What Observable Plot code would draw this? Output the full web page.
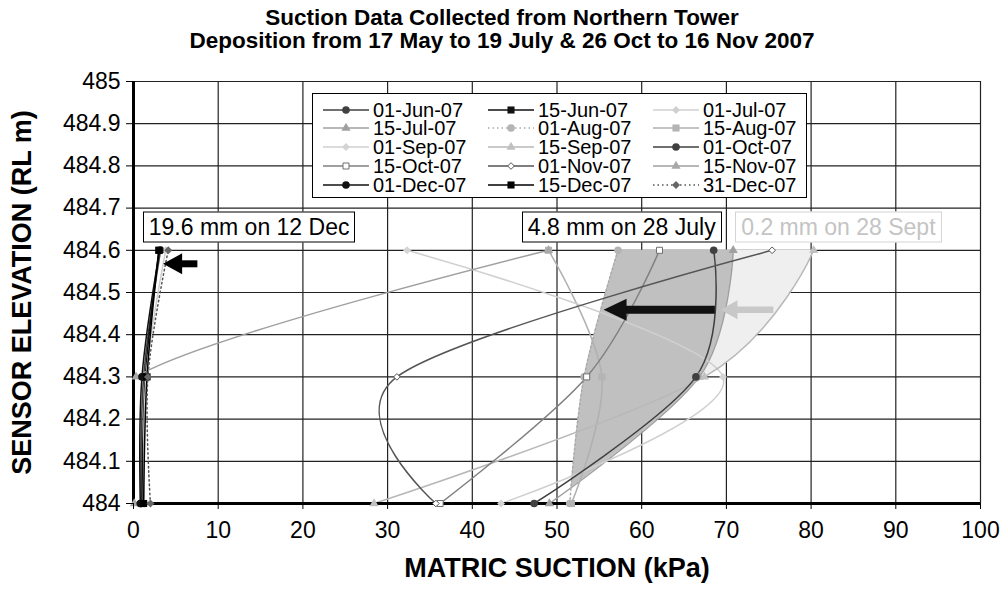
<!DOCTYPE html>
<html>
<head>
<meta charset="utf-8">
<script src="https://cdn.jsdelivr.net/npm/d3@7"></script>
<script src="https://cdn.jsdelivr.net/npm/@observablehq/plot@0.6"></script>
<style>
  body { margin: 0; background: #fff; font-family: "Liberation Sans", Arial, sans-serif; }
  #wrap { position: relative; width: 1004px; height: 600px; overflow: hidden; background: #fff; }
  #chart { position: absolute; left: 0; top: 0; }
  .title { position: absolute; left: 0; width: 1004px; text-align: center; font-weight: bold; font-size: 22.5px; line-height: 22px; height: 22px; color: #000; }
  #legend { position: absolute; left: 312px; top: 93px; width: 495px; height: 105px; background: #fff; border: 1px solid #000; box-sizing: border-box; }
  .item { position: absolute; display: flex; align-items: center; font-size: 20px; line-height: 18px; height: 18px; white-space: nowrap; color: #000; }
  .item svg { margin-right: 3px; display: block; }
  .item span { display: block; line-height: 18px; height: 18px; }
  .ann { position: absolute; background: #fff; border: 1px solid #000; font-size: 23px; line-height: 29px; padding: 0 5px; white-space: nowrap; transform: translateY(-50%); }
</style>
</head>
<body>
<div id="wrap">
  <div id="chart"></div>
  <div class="title" style="top:7px">Suction Data Collected from Northern Tower</div>
  <div class="title" style="top:30px">Deposition from 17 May to 19 July &amp; 26 Oct to 16 Nov 2007</div>
  <div id="legend"></div>
</div>
<script>
// ---------------- DATA ----------------
const elevations = [484.0, 484.3, 484.6];   // sensor elevations (RL m)
const dates = ["01-Jun-07","15-Jun-07","01-Jul-07","15-Jul-07","01-Aug-07","15-Aug-07",
               "01-Sep-07","15-Sep-07","01-Oct-07","15-Oct-07","01-Nov-07","15-Nov-07",
               "01-Dec-07","15-Dec-07","31-Dec-07"];
// matric suction (kPa) at 484.0, 484.3, 484.6
const jun01 = [0.9, 1.2, 3.2];
const jun15 = [1.0, 1.4, 3.0];
const jul01 = [1.3, 1.5, 3.8];
const jul15 = [49.1, 66.8, 70.8];
const aug01 = [51.5, 53.2, 57.2];
const aug15 = [51.7, 55.3, 49.0];
const sep01 = [43.4, 69.6, 32.3];
const sep15 = [28.4, 67.4, 80.3];
const oct01 = [47.3, 66.4, 68.5];
const oct15 = [36.2, 53.5, 62.1];
const nov01 = [35.7, 31.1, 75.4];
const nov15 = [0.1, 0.3, 49.0];
const dec01 = [0.8, 1.0, 3.1];
const dec15 = [1.2, 1.6, 3.0];
const dec31 = [2.0, 1.7, 4.1];
const seriesValues = [jun01, jun15, jul01, jul15, aug01, aug15, sep01, sep15, oct01, oct15, nov01, nov15, dec01, dec15, dec31];

const xTicks = [0, 10, 20, 30, 40, 50, 60, 70, 80, 90, 100];
const xTickLabels = ["0","10","20","30","40","50","60","70","80","90","100"];
const yTicks = [484.0, 484.1, 484.2, 484.3, 484.4, 484.5, 484.6, 484.7, 484.8, 484.9, 485.0];
const yTickLabels = ["484","484.1","484.2","484.3","484.4","484.5","484.6","484.7","484.8","484.9","485"];

// rainfall annotations
const annLabels = ["19.6 mm on 12 Dec", "4.8 mm on 28 July", "0.2 mm on 28 Sept"];
const annX = [1.15, 45.9, 71.1];
const annY = [484.653, 484.653, 484.653];
const arrowTail = [7.6, 68.7, 75.6];
const arrowTip = [3.5, 55.5, 69.3];
const arrowY = [484.568, 484.459, 484.459];
// shaded bands: [left series, right series]
const darkBand = ["01-Aug-07", "15-Jul-07"];
const lightBand = ["01-Oct-07", "15-Sep-07"];

// ---------------- STYLES ----------------
const styles = [
  {stroke:"#404040", symbol:"circle",   fill:"#404040", mstroke:"none",    r:3.8},
  {stroke:"#111111", symbol:"square",   fill:"#111111", mstroke:"none",    r:4},
  {stroke:"#d0d0d0", symbol:"diamond2", fill:"#d0d0d0", mstroke:"none",    r:3.6},
  {stroke:"#a0a0a0", symbol:"triangle", fill:"#a0a0a0", mstroke:"none",    r:3.4},
  {stroke:"#aaaaaa", symbol:"circle",   fill:"#b4b4b4", mstroke:"none",    r:3.8, dash:"1.5,3"},
  {stroke:"#b0b0b0", symbol:"square",   fill:"#b4b4b4", mstroke:"none",    r:4},
  {stroke:"#d0d0d0", symbol:"diamond2", fill:"#d4d4d4", mstroke:"none",    r:3.6},
  {stroke:"#b8b8b8", symbol:"triangle", fill:"#c0c0c0", mstroke:"none",    r:3.4},
  {stroke:"#404040", symbol:"circle",   fill:"#404040", mstroke:"none",    r:3.8},
  {stroke:"#808080", symbol:"square",   fill:"#ffffff", mstroke:"#707070", r:3.4},
  {stroke:"#555555", symbol:"diamond2", fill:"#ffffff", mstroke:"#555555", r:3.0},
  {stroke:"#a0a0a0", symbol:"triangle", fill:"#a8a8a8", mstroke:"none",    r:3.4},
  {stroke:"#111111", symbol:"circle",   fill:"#111111", mstroke:"none",    r:3.8},
  {stroke:"#000000", symbol:"square",   fill:"#000000", mstroke:"none",    r:4},
  {stroke:"#555555", symbol:"diamond2", fill:"#666666", mstroke:"none",    r:3.6, dash:"1.5,3"}
];
const arrowStyles = [
  {color:"#000000", shaft:7,   headLen:19, headW:21},
  {color:"#111111", shaft:8,   headLen:23, headW:22},
  {color:"#c8c8c8", shaft:6.5, headLen:17, headW:19}
];

// ---------------- TABLES ----------------
const rows = dates.flatMap((d, i) => elevations.map((e, j) => ({date: d, x: seriesValues[i][j], y: e})));

function bez(a, b, c, d, t) { const u = 1 - t; return u*u*u*a + 3*u*u*t*b + 3*u*t*t*c + t*t*t*d; }
// same construction as d3.curveCardinal (tension 0) for three points
function cardinalSamples(xs, ys, n) {
  const k = 1/6;
  const segs = [
    [[xs[0], ys[0]], [xs[0], ys[0]], [xs[1] + k*(xs[0]-xs[2]), ys[1] + k*(ys[0]-ys[2])], [xs[1], ys[1]]],
    [[xs[1], ys[1]], [xs[1] + k*(xs[2]-xs[0]), ys[1] + k*(ys[2]-ys[0])], [xs[2], ys[2]], [xs[2], ys[2]]]
  ];
  const out = [];
  segs.forEach((s, si) => {
    for (let i = si ? 1 : 0; i <= n; i++) {
      const t = i / n;
      out.push({x: bez(s[0][0], s[1][0], s[2][0], s[3][0], t), y: bez(s[0][1], s[1][1], s[2][1], s[3][1], t)});
    }
  });
  return out;
}
function bandRows(leftName, rightName) {
  const L = cardinalSamples(seriesValues[dates.indexOf(leftName)], elevations, 80);
  const R = cardinalSamples(seriesValues[dates.indexOf(rightName)], elevations, 80);
  const out = [];
  for (let i = L.length - 1; i >= 0; i--) {
    const d = R[i].x - L[i].x;
    if (d < 0) {
      const dp = R[i+1].x - L[i+1].x, f = dp / (dp - d);
      const x = L[i+1].x + f * (L[i].x - L[i+1].x);
      const y = L[i+1].y + f * (L[i].y - L[i+1].y);
      out.push({y, x1: x, x2: x});
      break;
    }
    out.push({y: L[i].y, x1: L[i].x, x2: R[i].x});
  }
  return out;
}
const darkRows = bandRows(darkBand[0], darkBand[1]);
const lightRows = bandRows(lightBand[0], lightBand[1]);
const arrows = arrowTip.map((t, i) => ({tip: t, tail: arrowTail[i], y: arrowY[i]}));

function headSymbol(L, W) {
  return {draw(ctx) { ctx.moveTo(0, 0); ctx.lineTo(L, -W/2); ctx.lineTo(L, W/2); ctx.closePath(); }};
}

// ---------------- MARKS ----------------
const lineMarks = dates.map((d, i) => Plot.line(rows.filter(r => r.date === d), {
  x: "x", y: "y", stroke: styles[i].stroke, strokeWidth: 1.5,
  strokeDasharray: styles[i].dash || null, curve: "cardinal", clip: true
}));
const dotMarks = dates.map((d, i) => Plot.dot(rows.filter(r => r.date === d), {
  x: "x", y: "y", symbol: styles[i].symbol, fill: styles[i].fill,
  stroke: styles[i].mstroke, strokeWidth: 1, r: styles[i].r
}));
const arrowMarks = arrows.flatMap((a, i) => [
  Plot.ruleY([a], {y: "y", x1: "tip", x2: "tail", stroke: arrowStyles[i].color,
    strokeWidth: arrowStyles[i].shaft, insetLeft: arrowStyles[i].headLen - 2}),
  Plot.dot([a], {x: "tip", y: "y", symbol: headSymbol(arrowStyles[i].headLen, arrowStyles[i].headW),
    fill: arrowStyles[i].color, stroke: "none", r: 5})
]);

const gridStyle = {stroke: "#222", strokeOpacity: 1, strokeWidth: 1.2};

const chart = Plot.plot({
  width: 1004, height: 600,
  marginLeft: 133, marginRight: 24, marginTop: 81, marginBottom: 97,
  style: {fontFamily: '"Liberation Sans", Arial, sans-serif', fontSize: "23px", color: "#000", background: "#fff"},
  x: {domain: [0, 100]},
  y: {domain: [484, 485]},
  marks: [
    Plot.gridX(xTicks, gridStyle),
    Plot.gridY(yTicks, gridStyle),
    Plot.areaX(lightRows, {y: "y", x1: "x1", x2: "x2", fill: "#efefef"}),
    Plot.areaX(darkRows, {y: "y", x1: "x1", x2: "x2", fill: "#c0c0c0"}),
    ...lineMarks,
    Plot.ruleX([0], {stroke: "#000", strokeWidth: 3}),
    Plot.ruleY([484], {stroke: "#000", strokeWidth: 3}),
    ...dotMarks,
    ...arrowMarks,
    Plot.axisX({ticks: xTicks, tickFormat: d => xTickLabels[xTicks.indexOf(d)], tickSize: 6, tickPadding: 12, label: null, fontSize: 23}),
    Plot.axisY({ticks: yTicks, tickFormat: d => yTickLabels[yTicks.indexOf(d)], tickSize: 7, tickPadding: 6, label: null, fontSize: 23}),
    Plot.text(["MATRIC SUCTION (kPa)"], {text: d => d, frameAnchor: "bottom", dy: 73, textAnchor: "middle", fontWeight: "bold", fontSize: 27}),
    Plot.text(["SENSOR ELEVATION (RL m)"], {text: d => d, frameAnchor: "left", dx: -111, rotate: -90, textAnchor: "middle", fontWeight: "bold", fontSize: 27})
  ]
});
document.getElementById("chart").appendChild(chart);

// ---------------- ANNOTATION BOXES ----------------
const xs = chart.scale("x"), ys = chart.scale("y");
const annColors = [["#000", "#000"], ["#000", "#000"], ["#c4c4c4", "#d4d4d4"]];
annLabels.forEach((t, i) => {
  const div = document.createElement("div");
  div.className = "ann";
  div.textContent = t;
  div.style.left = xs.apply(annX[i]) + "px";
  div.style.top = ys.apply(annY[i]) + "px";
  div.style.color = annColors[i][0];
  div.style.borderColor = annColors[i][1];
  document.getElementById("wrap").appendChild(div);
});

// ---------------- LEGEND ----------------
const symbolTypes = {circle: d3.symbolCircle, square: d3.symbolSquare, triangle: d3.symbolTriangle, diamond2: d3.symbolDiamond2};
const legend = d3.select("#legend");
const colX = [10, 175, 340];
const rowY = [15.5, 34.2, 53, 71.7, 90.5];
dates.forEach((d, i) => {
  const st = styles[i];
  const item = legend.append("div").attr("class", "item")
    .style("left", colX[i % 3] + "px").style("top", (rowY[Math.floor(i / 3)] - 9) + "px");
  const svg = item.append("svg").attr("width", 47).attr("height", 14);
  svg.append("line").attr("x1", 0).attr("x2", 46).attr("y1", 7).attr("y2", 7)
    .attr("stroke", st.stroke).attr("stroke-width", 1.5).attr("stroke-dasharray", st.dash || null);
  svg.append("path").attr("transform", "translate(23,7)")
    .attr("d", d3.symbol(symbolTypes[st.symbol], st.r * st.r * Math.PI)())
    .attr("fill", st.fill).attr("stroke", st.mstroke).attr("stroke-width", 1);
  item.append("span").text(d);
});
</script>
</body>
</html>
